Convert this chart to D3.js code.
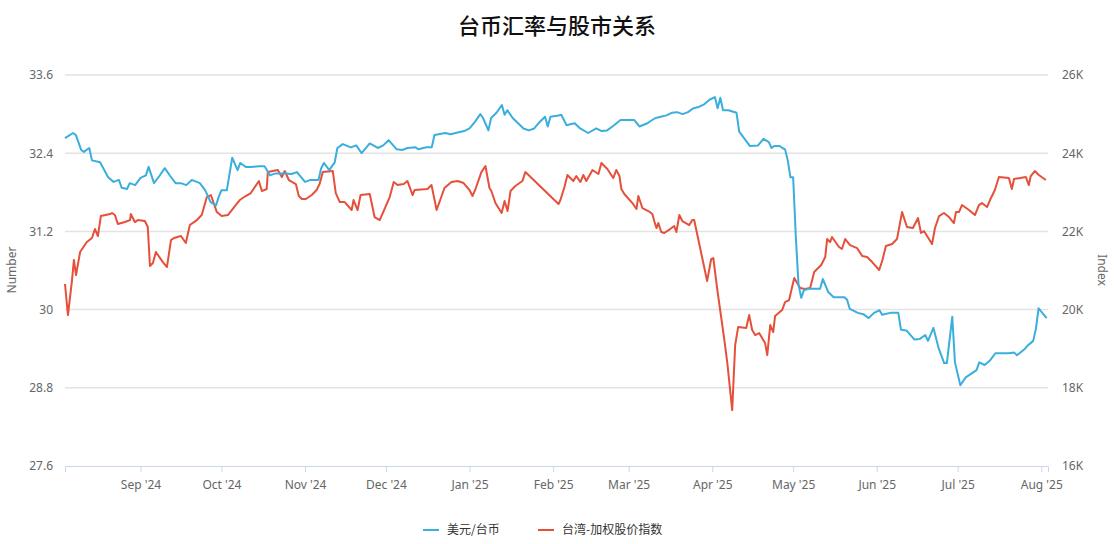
<!DOCTYPE html>
<html>
<head>
<meta charset="utf-8">
<script src="https://cdn.jsdelivr.net/npm/d3@7"></script>
<style>
  body { margin: 0; background: #fff; font-family: "Noto Sans CJK SC", "Noto Sans", sans-serif; }
</style>
</head>
<body>
<svg id="chart" width="1114" height="544"></svg>
<script>
// Données : [jour depuis le 4 août 2024, valeur]
const debut = new Date(2024, 7, 4);
const usdTwd = [[0,32.63],[3,32.71],[4,32.68],[6,32.45],[7,32.42],[9,32.48],[10,32.29],[13,32.26],[16,32.03],[18,31.96],[20,31.99],[21,31.87],[23,31.85],[24,31.94],[26,31.91],[28,32.02],[30,32.06],[31,32.19],[33,31.94],[35,32.05],[37,32.17],[39,32.05],[41,31.94],[43,31.94],[45,31.91],[47,31.99],[50,31.94],[52,31.83],[54,31.65],[56,31.60],[57,31.73],[58,31.83],[60,31.83],[62,32.33],[64,32.14],[65,32.25],[67,32.19],[69,32.19],[72,32.20],[74,32.20],[76,32.06],[78,32.09],[81,32.09],[84,32.08],[86,32.11],[89,31.96],[91,31.99],[94,31.99],[95,32.17],[96,32.25],[98,32.14],[100,32.26],[101,32.48],[103,32.54],[106,32.49],[108,32.52],[110,32.40],[113,32.55],[116,32.48],[118,32.52],[120,32.60],[123,32.46],[125,32.45],[127,32.48],[130,32.49],[131,32.46],[134,32.49],[136,32.49],[137,32.68],[141,32.71],[143,32.69],[146,32.72],[148,32.74],[150,32.78],[152,32.88],[154,33.00],[155,32.94],[157,32.75],[158,32.94],[160,33.02],[162,33.14],[163,32.99],[164,33.06],[166,32.94],[168,32.86],[170,32.78],[172,32.75],[174,32.78],[176,32.88],[178,32.96],[179,32.81],[180,32.96],[183,32.98],[184,32.99],[186,32.83],[187,32.84],[189,32.86],[191,32.78],[194,32.71],[197,32.78],[199,32.74],[201,32.75],[203,32.81],[206,32.91],[211,32.91],[213,32.81],[216,32.86],[217,32.89],[219,32.94],[221,32.96],[223,32.98],[225,33.02],[227,33.03],[229,33.00],[231,33.03],[233,33.09],[235,33.11],[237,33.15],[239,33.22],[241,33.26],[242,33.09],[243,33.25],[244,33.06],[246,33.06],[249,33.02],[250,32.73],[254,32.51],[257,32.52],[259,32.62],[261,32.57],[262,32.48],[263,32.51],[265,32.51],[266,32.48],[267,32.46],[268,32.29],[269,32.03],[270,32.03],[271,31.11],[272,30.38],[273,30.18],[274,30.30],[276,30.32],[280,30.32],[281,30.47],[283,30.27],[285,30.19],[289,30.19],[290,30.15],[291,30.01],[294,29.95],[296,29.93],[297,29.90],[298,29.87],[300,29.95],[302,29.99],[303,29.92],[306,29.95],[309,29.95],[310,29.69],[312,29.68],[315,29.54],[317,29.55],[319,29.61],[320,29.52],[322,29.72],[324,29.40],[326,29.18],[327,29.18],[329,29.89],[330,29.19],[332,28.84],[334,28.96],[338,29.07],[339,29.19],[341,29.15],[343,29.22],[345,29.33],[350,29.33],[352,29.34],[353,29.30],[356,29.40],[357,29.45],[359,29.52],[360,29.70],[361,30.02],[364,29.87]];

const taiex = [[0,20654],[1.1,19860],[2.6,20756],[3.3,21270],[4.1,20884],[5.6,21472],[8.1,21728],[10,21830],[11.1,22060],[12.2,21882],[13.3,22393],[16.7,22444],[17.4,22470],[18.5,22419],[19.6,22188],[22.2,22239],[24.1,22290],[24.4,22444],[25.9,22239],[27,22290],[29.6,22265],[30.7,22111],[31.5,21114],[32.6,21190],[33.7,21472],[36.3,21216],[37.8,21088],[39.3,21779],[40.4,21830],[43,21882],[44.8,21702],[46.3,22163],[48.9,22290],[50.7,22419],[52.6,22879],[54.1,22930],[56.3,22495],[58.1,22393],[60.4,22419],[63.3,22674],[64.8,22802],[67,22905],[68.9,22981],[71.9,23288],[73,23032],[74.8,23084],[75.2,23517],[78.9,23570],[80.4,23390],[81.5,23544],[83,23314],[85.6,23212],[86.7,22905],[87.8,22828],[89.3,22828],[91.5,22930],[93.3,23058],[94.4,23212],[95.6,23517],[99.3,23544],[100.4,22981],[101.9,22751],[103.7,22751],[106.3,22547],[107,22802],[108.5,22547],[109.6,22930],[113,22956],[114.8,22367],[116.7,22290],[120.4,22879],[121.9,23263],[123.3,23186],[125.6,23212],[127,23288],[128.9,22930],[129.6,23058],[134.4,23084],[135.9,23186],[137.8,22547],[140.7,23109],[143.3,23263],[145.6,23288],[147.8,23237],[150,23058],[151.1,22905],[152.2,23084],[154.4,23517],[155.9,23672],[157.4,23109],[158.1,23032],[159.6,22725],[161.9,22470],[163,22777],[164.1,22521],[165.2,23032],[167,23160],[169.6,23288],[170.7,23517],[183,22700],[183.7,22802],[185.2,23135],[186.3,23442],[188.5,23288],[189.6,23416],[191.1,23263],[192.2,23442],[193.3,23288],[195.6,23570],[197.8,23467],[198.9,23749],[201.1,23595],[203.3,23365],[204.4,23570],[205.6,23416],[206.3,23084],[207.4,22956],[210.4,22725],[211.9,22572],[212.6,22905],[214.1,22598],[216.3,22521],[217.8,22444],[218.5,22265],[219.3,22086],[220,22214],[221.1,21984],[222.2,21958],[224.4,22060],[225.9,22137],[226.7,21984],[227.8,22419],[228.9,22265],[231.5,22163],[232.6,22290],[233.3,22290],[235.2,21677],[238.1,20730],[239.6,21293],[240.4,21318],[241.9,20500],[244.4,19272],[245.6,18632],[247.4,17430],[248.5,19093],[249.6,19554],[252.6,19528],[253.7,19860],[254.8,19477],[255.9,19349],[257.4,19400],[259.6,19144],[260.4,18837],[261.5,19605],[262.6,19426],[263.3,19835],[265.9,19989],[267,20193],[268.5,20244],[270.4,20807],[272.6,20551],[274.4,20525],[276.3,20551],[277.8,20960],[280.4,21140],[281.9,21344],[282.6,21804],[283.7,21728],[284.4,21856],[287,21600],[288.1,21549],[289.3,21804],[291.1,21651],[293.7,21574],[295.6,21370],[297.4,21344],[299.3,21216],[301.9,21012],[303,21242],[304.4,21626],[306.7,21677],[308.5,21804],[310.4,22495],[312.2,22111],[314.4,22086],[316.3,22342],[317.4,21958],[318.5,22009],[321.5,21677],[322.6,22086],[324.1,22393],[325.9,22470],[327.8,22367],[329.6,22214],[330.4,22495],[331.5,22495],[332.6,22674],[335.2,22547],[337.4,22419],[338.9,22674],[340,22725],[341.9,22623],[343,22802],[344.8,23058],[346.3,23390],[350,23365],[351.1,23084],[351.9,23340],[356.3,23390],[357.4,23186],[358.1,23416],[359.6,23544],[361.1,23442],[363.7,23314]];

const ticksGauche = [27.6, 28.8, 30, 31.2, 32.4, 33.6];
const ticksDroite = [16000, 18000, 20000, 22000, 24000, 26000];
const nomsSeries = ['美元/台币', '台湾-加权股价指数'];
const couleurs = ['#3aaedc', '#e5503a'];

const svg = d3.select('#chart');
const marge = { gauche: 65, droite: 1048, haut: 75, bas: 466 };

const versDate = d => new Date(debut.getTime() + d * 864e5);
const x = d3.scaleTime().domain([debut, versDate(364.5)]).range([marge.gauche, marge.droite]);
const yG = d3.scaleLinear().domain([27.6, 33.6]).range([marge.bas, marge.haut]);
const yD = d3.scaleLinear().domain([16000, 26000]).range([marge.bas, marge.haut]);

// Titre
svg.append('text').attr('x', 557).attr('y', 34).attr('text-anchor', 'middle')
    .attr('font-size', 22).attr('font-weight', 500).attr('fill', '#111').text('台币汇率与股市关系');

// Grille
svg.append('g').selectAll('line').data(ticksGauche.slice(1)).join('line')
    .attr('x1', marge.gauche).attr('x2', marge.droite)
    .attr('y1', d => yG(d)).attr('y2', d => yG(d))
    .attr('stroke', '#e3e3e3').attr('stroke-width', 1.5);

// Axe gauche
const axeG = svg.append('g').attr('transform', `translate(${marge.gauche},0)`)
    .call(d3.axisLeft(yG).tickValues(ticksGauche).tickSize(0).tickPadding(12).tickFormat(d3.format('')));
axeG.select('.domain').remove();
axeG.selectAll('text').attr('font-size', 12).attr('fill', '#666').attr('font-family', 'Noto Sans');

// Axe droit
const axeD = svg.append('g').attr('transform', `translate(${marge.droite},0)`)
    .call(d3.axisRight(yD).tickValues(ticksDroite).tickSize(0).tickPadding(14).tickFormat(d => d / 1000 + 'K'));
axeD.select('.domain').remove();
axeD.selectAll('text').attr('font-size', 12).attr('fill', '#666').attr('font-family', 'Noto Sans');

// Axe X
const axeX = svg.append('g').attr('transform', `translate(0,${marge.bas})`)
    .call(d3.axisBottom(x).ticks(d3.timeMonth.every(1)).tickSize(6).tickPadding(8)
        .tickFormat(d => d3.timeFormat("%b '%y")(d)));
axeX.select('.domain').attr('stroke', '#ccd6eb');
axeX.selectAll('.tick line').attr('stroke', '#ccd6eb');
axeX.selectAll('text').attr('font-size', 12).attr('fill', '#666').attr('font-family', 'Noto Sans');

// Titres des axes
svg.append('text').attr('transform', 'translate(16,270) rotate(-90)').attr('text-anchor', 'middle')
    .attr('font-size', 12).attr('fill', '#666').attr('font-family', 'Noto Sans').text('Number');
svg.append('text').attr('transform', 'translate(1098,270) rotate(90)').attr('text-anchor', 'middle')
    .attr('font-size', 12).attr('fill', '#666').attr('font-family', 'Noto Sans').text('Index');

// Courbes
const ligneG = d3.line().x(d => x(versDate(d[0]))).y(d => yG(d[1]));
const ligneD = d3.line().x(d => x(versDate(d[0]))).y(d => yD(d[1]));
svg.append('path').datum(taiex).attr('d', ligneD).attr('fill', 'none')
    .attr('stroke', couleurs[1]).attr('stroke-width', 2).attr('stroke-linejoin', 'round');
svg.append('path').datum(usdTwd).attr('d', ligneG).attr('fill', 'none')
    .attr('stroke', couleurs[0]).attr('stroke-width', 2).attr('stroke-linejoin', 'round');

// Légende
const legende = [{ x: 423 }, { x: 538 }];
legende.forEach((l, i) => {
    const g = svg.append('g').attr('transform', `translate(${l.x},530)`);
    g.append('line').attr('x1', 0).attr('x2', 16).attr('stroke', couleurs[i]).attr('stroke-width', 2);
    g.append('text').attr('x', 24).attr('y', 4).attr('font-size', 12).attr('fill', '#333')
        .text(nomsSeries[i]);
});
</script>
</body>
</html>
